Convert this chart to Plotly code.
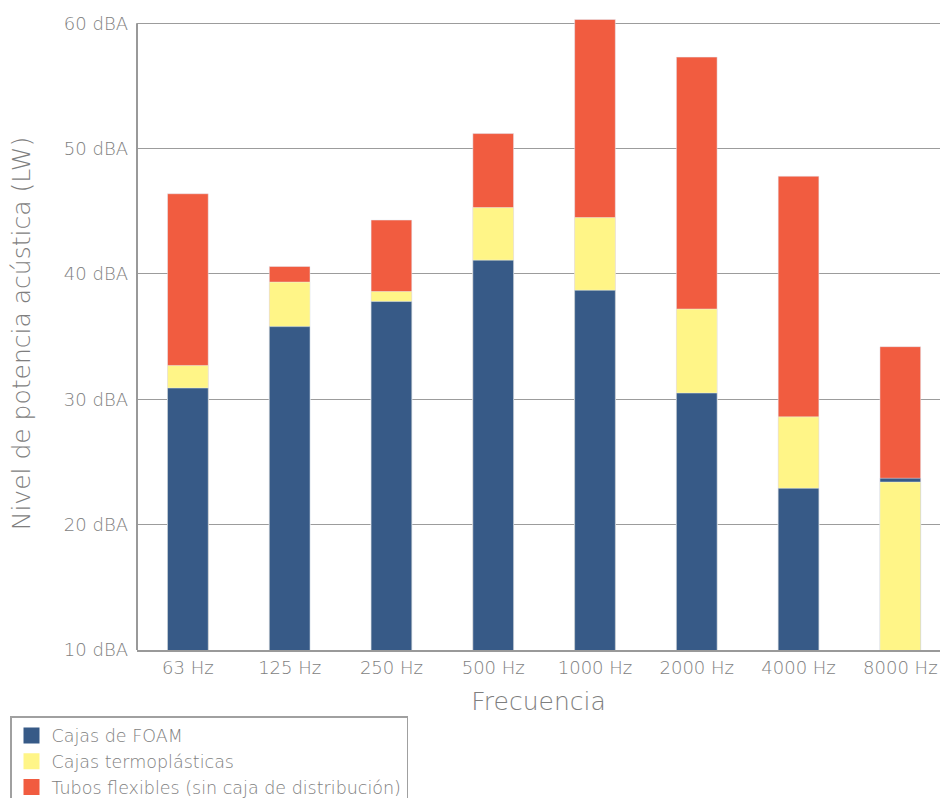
import plotly.graph_objects as go

categories = ["63 Hz", "125 Hz", "250 Hz", "500 Hz", "1000 Hz", "2000 Hz", "4000 Hz", "8000 Hz"]
foam = [30.9, 35.8, 37.8, 41.1, 38.7, 30.5, 22.9, 23.7]
termo = [32.7, 39.35, 38.6, 45.3, 44.5, 37.2, 28.6, 23.4]
tubos = [46.4, 40.6, 44.3, 51.2, 60.3, 57.3, 47.8, 34.2]
series_names = ["Cajas de FOAM", "Cajas termoplásticas", "Tubos flexibles (sin caja de distribución)"]
y_ticks = [10, 20, 30, 40, 50, 60]
y_ticklabels = ["10 dBA", "20 dBA", "30 dBA", "40 dBA", "50 dBA", "60 dBA"]

C_BLUE = "#375A87"
C_YEL = "#FFF587"
C_RED = "#F15C40"
TXT = "#7e7e7e"
FONT = "DejaVu Sans"
WEIGHT = 200

W, H = 940, 798
ML, MR, MT, MB = 137, 0, 17, 148
PW, PH = W - ML - MR, H - MT - MB

# overlay: larger values drawn behind smaller ones
termo_back = [t if t > f else None for t, f in zip(termo, foam)]
termo_front = [t if t <= f else None for t, f in zip(termo, foam)]

fig = go.Figure()
common = dict(width=0.4, showlegend=False, hoverinfo="x+y")
fig.add_trace(go.Bar(x=categories, y=tubos, marker_color=C_RED, name=series_names[2], **common))
fig.add_trace(go.Bar(x=categories, y=termo_back, marker_color=C_YEL, name=series_names[1], **common))
fig.add_trace(go.Bar(x=categories, y=foam, marker_color=C_BLUE, name=series_names[0], **common))
fig.add_trace(go.Bar(x=categories, y=termo_front, marker_color=C_YEL, name=series_names[1], **common))

for name, col in zip(series_names, [C_BLUE, C_YEL, C_RED]):
    fig.add_trace(go.Scatter(x=[None], y=[None], mode="markers", name=name,
                             marker=dict(symbol="square", size=16, color=col),
                             showlegend=True))

fig.update_layout(
    width=W, height=H,
    barmode="overlay",
    plot_bgcolor="white", paper_bgcolor="white",
    font=dict(family=FONT, color=TXT, size=18, weight=WEIGHT),
    margin=dict(l=ML, r=MR, t=MT, b=MB, autoexpand=False),
    xaxis=dict(
        type="category", range=[-0.5, 7.39],
        showline=True, linecolor="#999999", linewidth=2,
        ticks="", tickfont=dict(size=18, color=TXT, weight=WEIGHT), tickangle=0,
        title=dict(text="Frecuencia", font=dict(size=25, color=TXT, weight=WEIGHT), standoff=16),
        showgrid=False, automargin=False,
    ),
    yaxis=dict(
        range=[10, 60.5],
        tickvals=y_ticks, ticktext=y_ticklabels,
        tickfont=dict(size=18, color=TXT, weight=WEIGHT),
        showgrid=True, gridcolor="#9c9c9c", gridwidth=1.2,
        showline=False, zeroline=False, ticks="",
        ticklabelstandoff=8, automargin=False,
        title=dict(text="Nivel de potencia acústica (LW)", font=dict(size=25, color=TXT, weight=WEIGHT), standoff=26),
    ),
    legend=dict(
        x=(10 - ML) / PW, y=-(716 - (MT + PH)) / PH, xanchor="left", yanchor="top",
        bordercolor="#a0a0a0", borderwidth=1.5,
        font=dict(size=17.5, color=TXT, weight=WEIGHT),
        itemsizing="trace", tracegroupgap=0,
    ),
    shapes=[dict(type="line", xref="paper", yref="y", x0=0, x1=0, y0=10, y1=60,
                 line=dict(color="#999999", width=2))],
)

fig.write_html(
    "out.html",
    config={"displayModeBar": False},
    post_script="document.body.style.margin='0';document.body.style.overflow='hidden';",
)
